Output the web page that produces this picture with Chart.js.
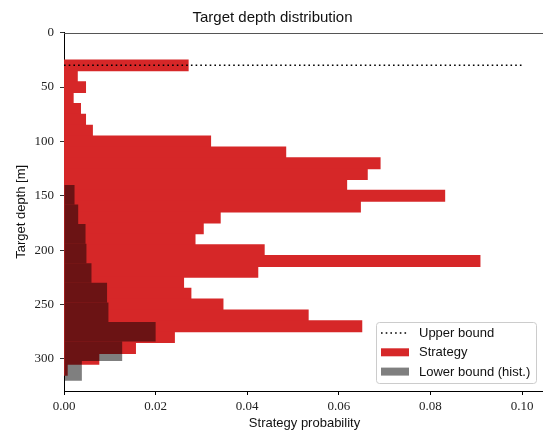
<!DOCTYPE html>
<html>
<head>
<meta charset="utf-8">
<script src="https://cdn.jsdelivr.net/npm/chart.js@4.4.1/dist/chart.umd.min.js"></script>
<style>
    html, body { margin: 0; padding: 0; overflow: hidden; background: #fff; }
</style>
</head>
<body>
<canvas id="chart" width="545" height="432"></canvas>
<script>
// DATA

const strategyDepths = [30, 40, 50, 60, 70, 80, 90, 100, 110, 120, 130, 140, 150, 160, 170,
    180, 190, 200, 210, 220, 230, 240, 250, 260, 270, 280, 290, 300, 310];
const strategyProb = [0.0271, 0.0029, 0.0047, 0.0020, 0.0036, 0.0047, 0.0062, 0.0320, 0.0484, 0.0690,
    0.0662, 0.0617, 0.0831, 0.0647, 0.0341, 0.0304, 0.0286, 0.0437, 0.0908, 0.0423,
    0.0261, 0.0277, 0.0347, 0.0533, 0.0650, 0.0241, 0.0156, 0.0076, 0.0007];

const lowerDepths = [149, 167, 185, 203, 221, 239, 257, 275, 293, 311];
const lowerProb = [0.0023, 0.0031, 0.0047, 0.0049, 0.0060, 0.0094, 0.0097, 0.0200, 0.0127, 0.0039];

const upperBoundDepth = 30;
const upperBoundProb = [0, 0.1];

const depthTicks = [0, 50, 100, 150, 200, 250, 300];
const probTicks = [0, 0.02, 0.04, 0.06, 0.08, 0.10];


// LEGEND INSIDE THE PLOT + TOP SPINE

const innerLegend = {
    id: "innerLegend",
    afterDraw(chart) {
        const ctx = chart.ctx;
        const area = chart.chartArea;

        // top spine
        ctx.save();
        ctx.strokeStyle = "#555";
        ctx.lineWidth = 1;
        ctx.beginPath();
        ctx.moveTo(area.left, Math.round(area.top) + 0.5);
        ctx.lineTo(area.right, Math.round(area.top) + 0.5);
        ctx.stroke();

        const w = 160, h = 61;
        const x = area.right - 9 - w;
        const y = area.bottom - 8 - h;

        ctx.fillStyle = "rgba(255,255,255,0.8)";
        ctx.strokeStyle = "#cccccc";
        ctx.beginPath();
        ctx.roundRect(x + 0.5, y + 0.5, w, h, 3);
        ctx.fill();
        ctx.stroke();

        const sets = chart.data.datasets;
        const order = [2, 0, 1];
        ctx.font = "13px 'Liberation Sans'";
        ctx.textBaseline = "middle";
        ctx.textAlign = "left";

        order.forEach((idx, i) => {
            const ds = sets[idx];
            const cy = y + 11 + i * 19.3;
            if (ds.type === "line") {
                ctx.strokeStyle = ds.borderColor;
                ctx.lineWidth = ds.borderWidth;
                ctx.setLineDash(ds.borderDash);
                ctx.beginPath();
                ctx.moveTo(x + 5, cy);
                ctx.lineTo(x + 33, cy);
                ctx.stroke();
                ctx.setLineDash([]);
            } else {
                ctx.fillStyle = ds.backgroundColor;
                ctx.fillRect(x + 5, cy - 4, 28, 8);
            }
            ctx.fillStyle = "#111";
            ctx.fillText(ds.label, x + 43, cy + 0.5);
        });
        ctx.restore();
    }
};


// CHART

Chart.defaults.font.family = "'Liberation Sans', Arial, sans-serif";

const canvas = document.getElementById("chart");

new Chart(canvas, {
    type: "bar",
    data: {
        datasets: [
            {
                label: "Strategy",
                data: strategyDepths.map((d, i) => ({ y: d, x: strategyProb[i] })),
                backgroundColor: "#d62728",
                borderWidth: 0,
                inflateAmount: 0.5,
                grouped: false,
                barPercentage: 1,
                categoryPercentage: 1,
                yAxisID: "y",
                order: 2
            },
            {
                label: "Lower bound (hist.)",
                data: lowerDepths.map((d, i) => ({ y: d, x: lowerProb[i] })),
                backgroundColor: "rgba(0,0,0,0.5)",
                borderWidth: 0,
                inflateAmount: 0,
                grouped: false,
                barPercentage: 1,
                categoryPercentage: 1,
                yAxisID: "y2",
                order: 1
            },
            {
                type: "line",
                label: "Upper bound",
                data: upperBoundProb.map(p => ({ y: upperBoundDepth, x: p })),
                borderColor: "#000",
                borderWidth: 1.6,
                borderDash: [1.6, 3.1],
                pointRadius: 0,
                fill: false,
                yAxisID: "y",
                order: 0
            }
        ]
    },
    options: {
        indexAxis: "y",
        responsive: false,
        animation: false,
        layout: { padding: 0 },
        plugins: {
            legend: { display: false },
            tooltip: { enabled: false },
            title: {
                display: true,
                text: "Target depth distribution",
                color: "#111",
                font: { size: 15, weight: "normal" },
                padding: { top: 9, bottom: 5.7 }
            }
        },
        scales: {
            x: {
                type: "linear",
                position: "bottom",
                min: 0,
                max: 0.105,
                afterBuildTicks: s => { s.ticks = probTicks.map(v => ({ value: v })); },
                afterFit: s => { s.height = 41; },
                grid: { drawOnChartArea: false, tickLength: 4, tickColor: "#000" },
                border: { color: "#000", width: 1 },
                ticks: {
                    color: "#222",
                    padding: 4,
                    maxRotation: 0,
                    autoSkip: false,
                    font: { family: "'Liberation Serif', serif", size: 13 },
                    callback: v => v.toFixed(2)
                },
                title: {
                    display: true,
                    text: "Strategy probability",
                    color: "#111",
                    font: { size: 13 },
                    padding: { top: 0, bottom: 1 }
                }
            },
            y: {
                type: "linear",
                position: "left",
                reverse: true,
                offset: false,
                min: 0,
                max: 329.5,
                z: 1,
                afterBuildTicks: s => { s.ticks = depthTicks.map(v => ({ value: v })); },
                afterFit: s => { s.width = 64; },
                grid: { offset: false, drawOnChartArea: false, tickLength: 4, tickColor: "#333" },
                border: { color: "#000", width: 1 },
                ticks: {
                    color: "#222",
                    padding: 6,
                    font: { family: "'Liberation Serif', serif", size: 13 }
                },
                title: {
                    display: true,
                    text: "Target depth [m]",
                    color: "#111",
                    font: { size: 13 },
                    padding: { top: 14, bottom: 0 }
                }
            },
            y2: {
                type: "linear",
                position: "left",
                reverse: true,
                offset: false,
                min: 0,
                max: 329.5,
                grid: { offset: false },
                display: false
            }
        }
    },
    plugins: [innerLegend]
});
</script>
</body>
</html>
